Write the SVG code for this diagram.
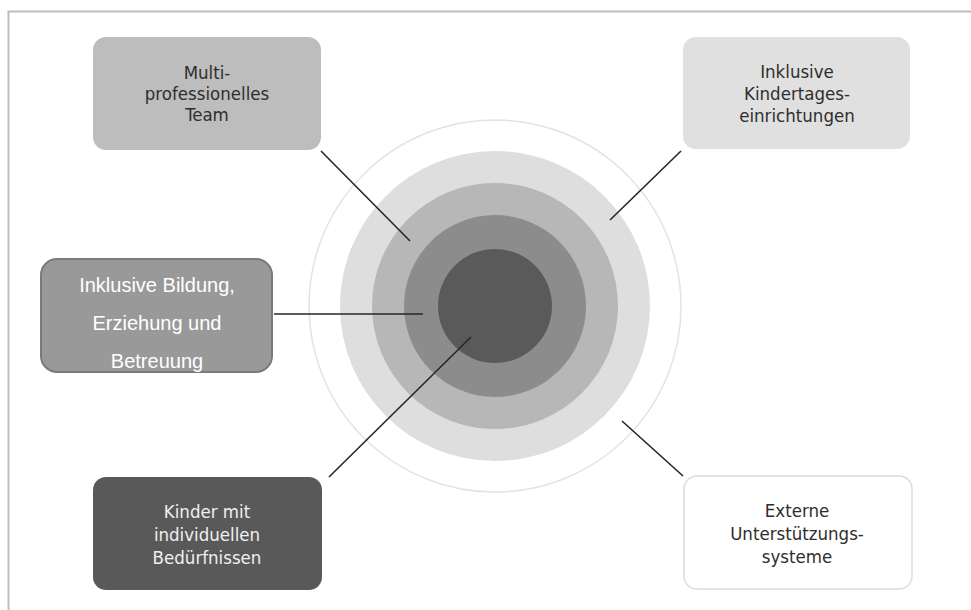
<svg xmlns="http://www.w3.org/2000/svg" width="971" height="610" viewBox="0 0 971 610">
<style>
.t{font-family:"DejaVu Sans Condensed","Open Sans",sans-serif;font-stretch:condensed;font-size:18.5px;text-anchor:middle}
.d{fill:#2e2e2e}
.w{fill:#f0f0f0}
.a{font-family:"Liberation Sans",Arial,sans-serif;font-size:20px;text-anchor:middle;fill:#ffffff}
.c{stroke:#262626;stroke-width:1.6;fill:none}
</style>
<rect width="971" height="610" fill="#ffffff"/>
<path d="M8.5 610 V11.5 H971" fill="none" stroke="#bdbdbd" stroke-width="2"/>
<g id="rings">
<circle cx="495" cy="306" r="186" fill="#ffffff" stroke="#e3e3e3" stroke-width="1.5"/>
<circle cx="495" cy="306" r="155" fill="#dedede"/>
<circle cx="495" cy="306" r="123" fill="#b7b7b7"/>
<circle cx="495" cy="306" r="91" fill="#8c8c8c"/>
<circle cx="495" cy="306" r="57" fill="#5a5a5a"/>
</g>
<g id="connectors">
<line class="c" x1="321" y1="151" x2="410" y2="241"/>
<line class="c" x1="681" y1="151" x2="610" y2="220"/>
<line class="c" x1="274" y1="314" x2="423" y2="314"/>
<line class="c" x1="329" y1="477" x2="471" y2="337"/>
<line class="c" x1="622" y1="421" x2="683" y2="476"/>
</g>
<g id="team">
<rect x="93" y="37" width="228" height="113" rx="13" fill="#bdbdbd"/>
<text class="t d" x="207" y="79">Multi-</text>
<text class="t d" x="207" y="100">professionelles</text>
<text class="t d" x="207" y="121">Team</text>
</g>
<g id="kita">
<rect x="683" y="37" width="227" height="112" rx="13" fill="#e0e0e0"/>
<text class="t d" x="797" y="78">Inklusive</text>
<text class="t d" x="797" y="100">Kindertages-</text>
<text class="t d" x="797" y="122">einrichtungen</text>
</g>
<g id="bildung">
<rect x="41" y="259" width="231" height="113" rx="16" fill="#999999" stroke="#7a7a7a" stroke-width="2"/>
<text class="a" x="157" y="292">Inklusive Bildung,</text>
<text class="a" x="157" y="330">Erziehung und</text>
<text class="a" x="157" y="368">Betreuung</text>
</g>
<g id="kinder">
<rect x="93" y="477" width="229" height="113" rx="13" fill="#595959"/>
<text class="t w" x="207" y="518">Kinder mit</text>
<text class="t w" x="207" y="541">individuellen</text>
<text class="t w" x="207" y="564">Bedürfnissen</text>
</g>
<g id="extern">
<rect x="684" y="476" width="228" height="113" rx="13" fill="#ffffff" stroke="#dcdcdc" stroke-width="1.5"/>
<text class="t d" x="797" y="517">Externe</text>
<text class="t d" x="797" y="540">Unterstützungs-</text>
<text class="t d" x="797" y="563">systeme</text>
</g>
</svg>
